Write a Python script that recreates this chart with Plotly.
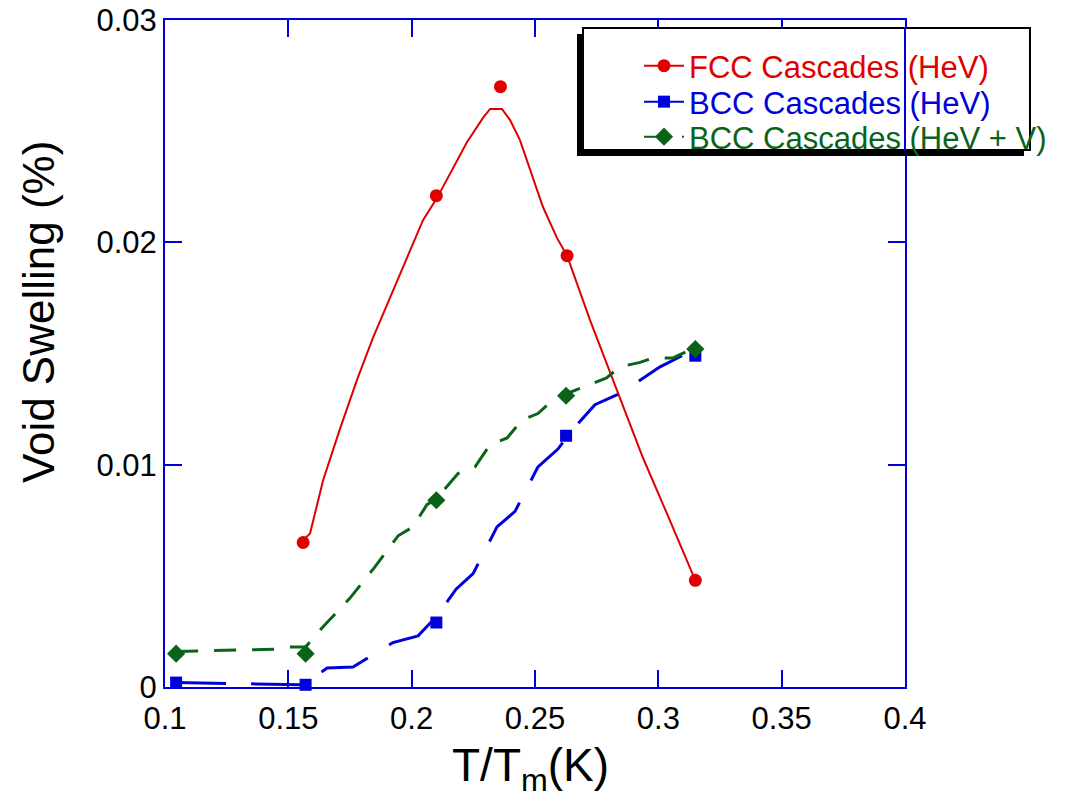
import plotly.graph_objects as go

# ---------------- data ----------------
fcc_x = [0.156, 0.210, 0.236, 0.263, 0.315]
fcc_y = [0.0065, 0.0221, 0.0270, 0.0194, 0.0048]

bcc_x = [0.1045, 0.157, 0.210, 0.2626, 0.315]
bcc_y = [0.0002, 0.0001, 0.0029, 0.0113, 0.0149]

bccv_x = [0.1045, 0.157, 0.210, 0.2626, 0.315]
bccv_y = [0.0015, 0.0015, 0.0084, 0.0131, 0.0152]

# fitted curves as drawn in the picture
fcc_curve_x = [0.156, 0.1588, 0.1641, 0.1709, 0.1778, 0.1843, 0.1912, 0.1981, 0.2046,
               0.2103, 0.2224, 0.2289, 0.2318, 0.2366, 0.2399, 0.2439, 0.248, 0.2532,
               0.2589, 0.263, 0.2723, 0.2845, 0.2938, 0.3035, 0.3136, 0.315]
fcc_curve_y = [0.0066, 0.0069, 0.0093, 0.0116, 0.0138, 0.0157, 0.0175, 0.0193, 0.0210,
               0.0220, 0.0245, 0.0256, 0.0260, 0.0260, 0.0255, 0.0246, 0.0233, 0.0216,
               0.0202, 0.0194, 0.0165, 0.0130, 0.0103, 0.0078, 0.0051, 0.0048]

bcc_curve_x = [0.1045, 0.157, 0.160, 0.1657, 0.1762, 0.1924, 0.2026, 0.2103, 0.218,
               0.2249, 0.2346, 0.2419, 0.2512, 0.2593, 0.2654, 0.2743, 0.2845, 0.3007, 0.315]
bcc_curve_y = [0.0002, 0.0001, 0.0004, 0.00085, 0.0009, 0.0020, 0.0023, 0.0032, 0.0044,
               0.0051, 0.0072, 0.0079, 0.0099, 0.0107, 0.0116, 0.0127, 0.0132, 0.0144, 0.0152]

bccv_curve_x = [0.1045, 0.1446, 0.150, 0.157, 0.164, 0.175, 0.1851, 0.1945, 0.2005, 0.2062,
                0.2103, 0.2188, 0.2257, 0.2318, 0.2387, 0.2447, 0.2512, 0.2581, 0.263,
                0.279, 0.2845, 0.2926, 0.2978, 0.306, 0.3116, 0.315]
bccv_curve_y = [0.0016, 0.0017, 0.0018, 0.0018, 0.0027, 0.0040, 0.0054, 0.0068, 0.0072, 0.0082,
                0.0085, 0.0096, 0.0099, 0.0109, 0.0112, 0.0120, 0.0123, 0.0130, 0.0132,
                0.0139, 0.0144, 0.0146, 0.0148, 0.0148, 0.0151, 0.0152]

names = ["FCC Cascades (HeV)", "BCC Cascades (HeV)", "BCC Cascades (HeV + V)"]

x_ticks = [0.1, 0.15, 0.2, 0.25, 0.3, 0.35, 0.4]
y_ticks = [0, 0.01, 0.02, 0.03]

# ---------------- styles ----------------
RED = "#e00000"
BLUE = "#0000dd"
GREEN = "#0a6418"
FONT = "Liberation Sans, Arial, sans-serif"

# plot area in pixels
L, R, T, B = 165, 905, 20, 687
W, H = 1066, 810


def px(xp):
    return (xp - L) / (R - L)


def py(yp):
    return (B - yp) / (B - T)


series = [
    (fcc_x, fcc_y, fcc_curve_x, fcc_curve_y, RED, "circle", 13, "solid", 2),
    (bcc_x, bcc_y, bcc_curve_x, bcc_curve_y, BLUE, "square", 12, "50px,25px", 3),
    (bccv_x, bccv_y, bccv_curve_x, bccv_curve_y, GREEN, "diamond", 14, "22px,16px", 3),
]
legend_ids = ["legend", "legend2", "legend3"]
legend_rows = [66, 102, 137]

fig = go.Figure()
for (mx, my, cx, cy, col, sym, size, dash, lw), name, lid in zip(series, names, legend_ids):
    fig.add_trace(go.Scatter(x=cx, y=cy, mode="lines", showlegend=False,
                             line=dict(color=col, width=lw, dash=dash), cliponaxis=False))
    fig.add_trace(go.Scatter(x=mx, y=my, mode="markers", showlegend=False,
                             marker=dict(color=col, symbol=sym, size=size), cliponaxis=False))
    # legend entry (no data drawn)
    fig.add_trace(go.Scatter(x=[None], y=[None], mode="lines+markers", legend=lid,
                             name=name,
                             line=dict(color=col, width=2, dash=dash),
                             marker=dict(color=col, symbol=sym, size=size)))

axis_common = dict(showline=True, linecolor=BLUE, linewidth=2, mirror="allticks",
                   ticks="inside", ticklen=17, tickwidth=2, tickcolor=BLUE,
                   showgrid=False, zeroline=False,
                   tickfont=dict(family=FONT, size=31, color="black"))

fig.update_xaxes(range=[0.1, 0.4], tickvals=x_ticks, ticktext=[f"{v:g}" for v in x_ticks],
                 ticklabelstandoff=3, **axis_common)
fig.update_yaxes(range=[0, 0.03], tickvals=y_ticks, ticktext=[f"{v:g}" for v in y_ticks],
                 **axis_common)

shapes = [
    # legend shadow
    dict(type="rect", xref="paper", yref="paper", x0=px(577), x1=px(1024), y0=py(156), y1=py(34),
         fillcolor="black", line=dict(width=0), layer="above"),
    # legend box
    dict(type="rect", xref="paper", yref="paper", x0=px(583), x1=px(1030), y0=py(150), y1=py(28),
         fillcolor="white", line=dict(color="black", width=2), layer="above"),
    # right axis line running over the legend box
    dict(type="line", xref="paper", yref="paper", x0=px(905), x1=px(905), y0=py(151), y1=py(27),
         line=dict(color=BLUE, width=2), layer="above"),
]

annotations = [
    dict(text="Void Swelling (%)", xref="paper", yref="paper", x=px(38), y=py(312),
         xanchor="center", yanchor="middle", textangle=-90, showarrow=False,
         font=dict(family=FONT, size=44, color="black")),
    dict(text="T/T<sub>m</sub>(K)", xref="paper", yref="paper", x=px(530), y=py(768),
         xanchor="center", yanchor="middle", showarrow=False,
         font=dict(family=FONT, size=46, color="black")),
]

layout_legends = {}
for (s, lid, row) in zip(series, legend_ids, legend_rows):
    layout_legends[lid] = dict(x=px(639), y=py(row), xanchor="left", yanchor="middle",
                               bgcolor="rgba(0,0,0,0)", borderwidth=0, itemwidth=40,
                               font=dict(family=FONT, size=31, color=s[4]))

fig.update_layout(
    width=W, height=H,
    margin=dict(l=L, r=W - R, t=T, b=H - B, autoexpand=False),
    paper_bgcolor="white", plot_bgcolor="white",
    font=dict(family=FONT, color="black"),
    showlegend=True,
    shapes=shapes,
    annotations=annotations,
    **layout_legends,
)

fig.write_html("out.html")
